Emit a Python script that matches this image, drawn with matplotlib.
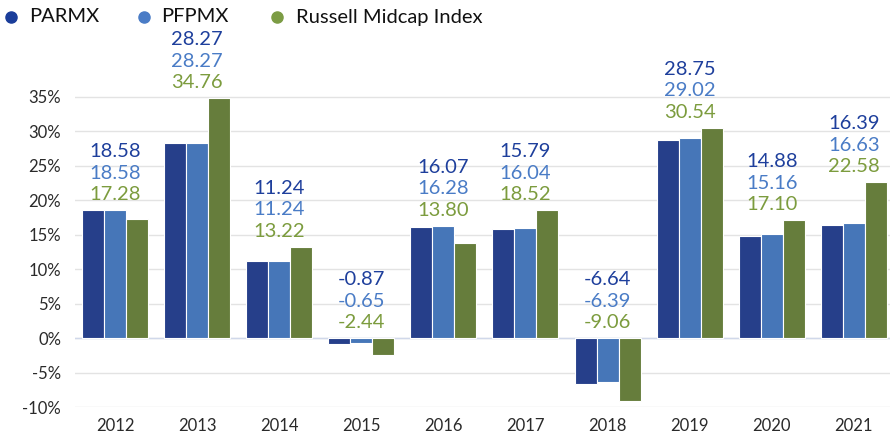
import matplotlib
matplotlib.use("Agg")
import matplotlib.pyplot as plt
import numpy as np

plt.rcParams["font.family"] = ["Lato", "DejaVu Sans"]

years = ["2012", "2013", "2014", "2015", "2016", "2017", "2018", "2019", "2020", "2021"]
parmx = [18.58, 28.27, 11.24, -0.87, 16.07, 15.79, -6.64, 28.75, 14.88, 16.39]
pfpmx = [18.58, 28.27, 11.24, -0.65, 16.28, 16.04, -6.39, 29.02, 15.16, 16.63]
russell = [17.28, 34.76, 13.22, -2.44, 13.80, 18.52, -9.06, 30.54, 17.10, 22.58]
series_names = ["PARMX", "PFPMX", "Russell Midcap Index"]

bar_colors = ["#263f8a", "#4676b8", "#667d3c"]
text_colors = ["#1e3f9c", "#4a7cc6", "#7c9c3e"]
dot_colors = ["#1a3d9a", "#4a7cc6", "#7c9c44"]

fig = plt.figure(figsize=(8.9, 4.4), dpi=100)
ax = fig.add_axes([75 / 890, (440 - 407) / 440, 815 / 890, (407 - 40) / 440])

x = np.arange(len(years))
w = 0.268
for i, vals in enumerate([parmx, pfpmx, russell]):
    ax.bar(x + (i - 1) * w, vals, width=w, color=bar_colors[i],
           edgecolor="white", linewidth=0.8, zorder=3)

# stacked value labels above each group
for j in range(len(years)):
    vals = [parmx[j], pfpmx[j], russell[j]]
    base = max(0, max(vals))
    for i, v in enumerate(vals):
        ax.annotate(f"{v:.2f}", (x[j], base), xytext=(0, 7 + (2 - i) * 21.5),
                    textcoords="offset pixels", ha="center", va="bottom",
                    fontsize=14.5, color=text_colors[i], annotation_clip=False)

ax.set_xlim(-0.487, -0.487 + 815 / 82.1)
ax.set_ylim(-10, (339 - 40) / 6.914)
ax.set_yticks(range(-10, 36, 5))
ax.set_yticklabels([f"{t}%" for t in range(-10, 36, 5)], fontsize=12, color="#2a2a2a")
ax.set_xticks(x)
ax.set_xticklabels(years, fontsize=12, color="#2a2a2a")
ax.tick_params(length=0, pad=8)
ax.tick_params(axis="y", pad=10)
ax.grid(axis="y", color="#e3e3e3", linewidth=1, zorder=0)
ax.axhline(0, color="#d0d8ea", linewidth=1, zorder=2)
for s in ax.spines.values():
    s.set_visible(False)

# legend row at the top
dot_x = [11 / 890, 144 / 890, 277 / 890]
text_x = [29 / 890, 161 / 890, 296 / 890]
leg_y = 1 - 17 / 440
for i, name in enumerate(series_names):
    fig.add_artist(plt.Line2D([dot_x[i]], [leg_y], marker="o", markersize=8,
                              color=dot_colors[i], linestyle="",
                              transform=fig.transFigure))
    fig.text(text_x[i], leg_y, name, fontsize=14.5, color="#111111",
             ha="left", va="center")

fig.savefig("out.png", dpi=100)
